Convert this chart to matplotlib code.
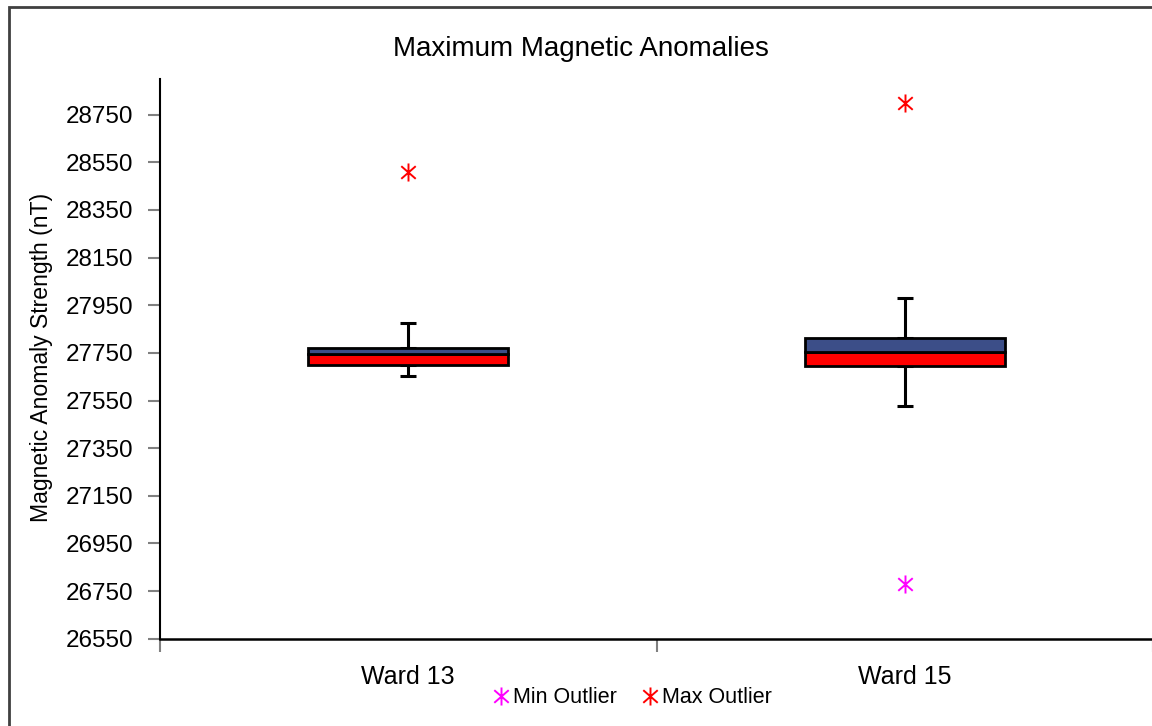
import matplotlib
matplotlib.use("Agg")
from matplotlib import pyplot as plt
from matplotlib.path import Path
from matplotlib.patches import Rectangle
import numpy as np

# data (nT)
wards = ["Ward 13", "Ward 15"]
whisker_low = [27654, 27527]
q1 = [27699, 27695]
median = [27744, 27755]
q3 = [27772, 27811]
whisker_high = [27877, 27982]
max_outlier = [28509, 28799]
min_outlier = [None, 26780]

plt.rcParams['font.family'] = ['Liberation Sans', 'DejaVu Sans']

# asterisk marker like excel's (vertical bar + X)
star = Path([(0, -1), (0, 1), (-0.8, -0.7), (0.8, 0.7), (-0.8, 0.7), (0.8, -0.7)],
            [Path.MOVETO, Path.LINETO, Path.MOVETO, Path.LINETO, Path.MOVETO, Path.LINETO])

fig = plt.figure(figsize=(11.52, 7.26), dpi=100)
ax = fig.add_axes([0.1389, 0.1202, 0.8620, 0.7710])

x = np.arange(1, len(wards) + 1)
width = 0.402

lower = np.array(median) - np.array(q1)
upper = np.array(q3) - np.array(median)
ax.bar(x, lower, width, bottom=q1, color='#FF0000', edgecolor='black', linewidth=2, zorder=3)
ax.bar(x, upper, width, bottom=median, color='#3C4E88', edgecolor='black', linewidth=2, zorder=3)

# whiskers
ax.errorbar(x, q3, yerr=[np.zeros(len(x)), np.array(whisker_high) - np.array(q3)],
            fmt='none', ecolor='black', elinewidth=2.2, capsize=6, capthick=2.2, zorder=2)
ax.errorbar(x, q1, yerr=[np.array(q1) - np.array(whisker_low), np.zeros(len(x))],
            fmt='none', ecolor='black', elinewidth=2.2, capsize=6, capthick=2.2, zorder=2)

# outliers
mn_x = [xi for xi, v in zip(x, min_outlier) if v is not None]
mn_y = [v for v in min_outlier if v is not None]
h_min, = ax.plot(mn_x, mn_y, linestyle='none', marker=star, markersize=13,
                 markeredgecolor='#FF00FF', markeredgewidth=1.4, label='Min Outlier', zorder=4)
h_max, = ax.plot(x, max_outlier, linestyle='none', marker=star, markersize=13,
                 markeredgecolor='#FF0000', markeredgewidth=1.4, label='Max Outlier', zorder=4)

ax.set_xlim(0.5, 2.5)
ax.set_ylim(26550, 28900)
ax.set_yticks(np.arange(26550, 28751, 200))
ax.set_xticks([0.5, 1.5, 2.5])
ax.set_xticklabels([])
ax.set_xticks(x, minor=True)
ax.set_xticklabels(wards, minor=True)
ax.tick_params(axis='x', which='minor', length=0, pad=19, labelsize=18)
ax.tick_params(axis='x', which='major', length=9, width=1.5, color='#808080')
ax.tick_params(axis='y', length=9, width=1.5, color='#808080', labelsize=17.5, pad=10)

for s in ['top', 'right']:
    ax.spines[s].set_visible(False)
ax.spines['left'].set_linewidth(1.5)
ax.spines['bottom'].set_linewidth(1.8)

fig.text(42 / 1152, 1 - 357 / 726, 'Magnetic Anomaly Strength (nT)', rotation=90,
         ha='center', va='center', fontsize=16.6)
fig.text(0.504, 0.933, 'Maximum Magnetic Anomalies', ha='center', va='center', fontsize=20)

fig.legend(handles=[h_min, h_max], loc='center', bbox_to_anchor=(0.549, 0.039), ncol=2,
           frameon=False, fontsize=15.5, handlelength=0.7, handletextpad=0.2, columnspacing=1.2)

# chart area border
fig.patches.append(Rectangle((8.5 / 1152, -0.2), 1.2, 1.2 - 6.5 / 726, transform=fig.transFigure,
                             fill=False, edgecolor='#404040', linewidth=2, clip_on=False))

fig.savefig('out.png', dpi=100)
